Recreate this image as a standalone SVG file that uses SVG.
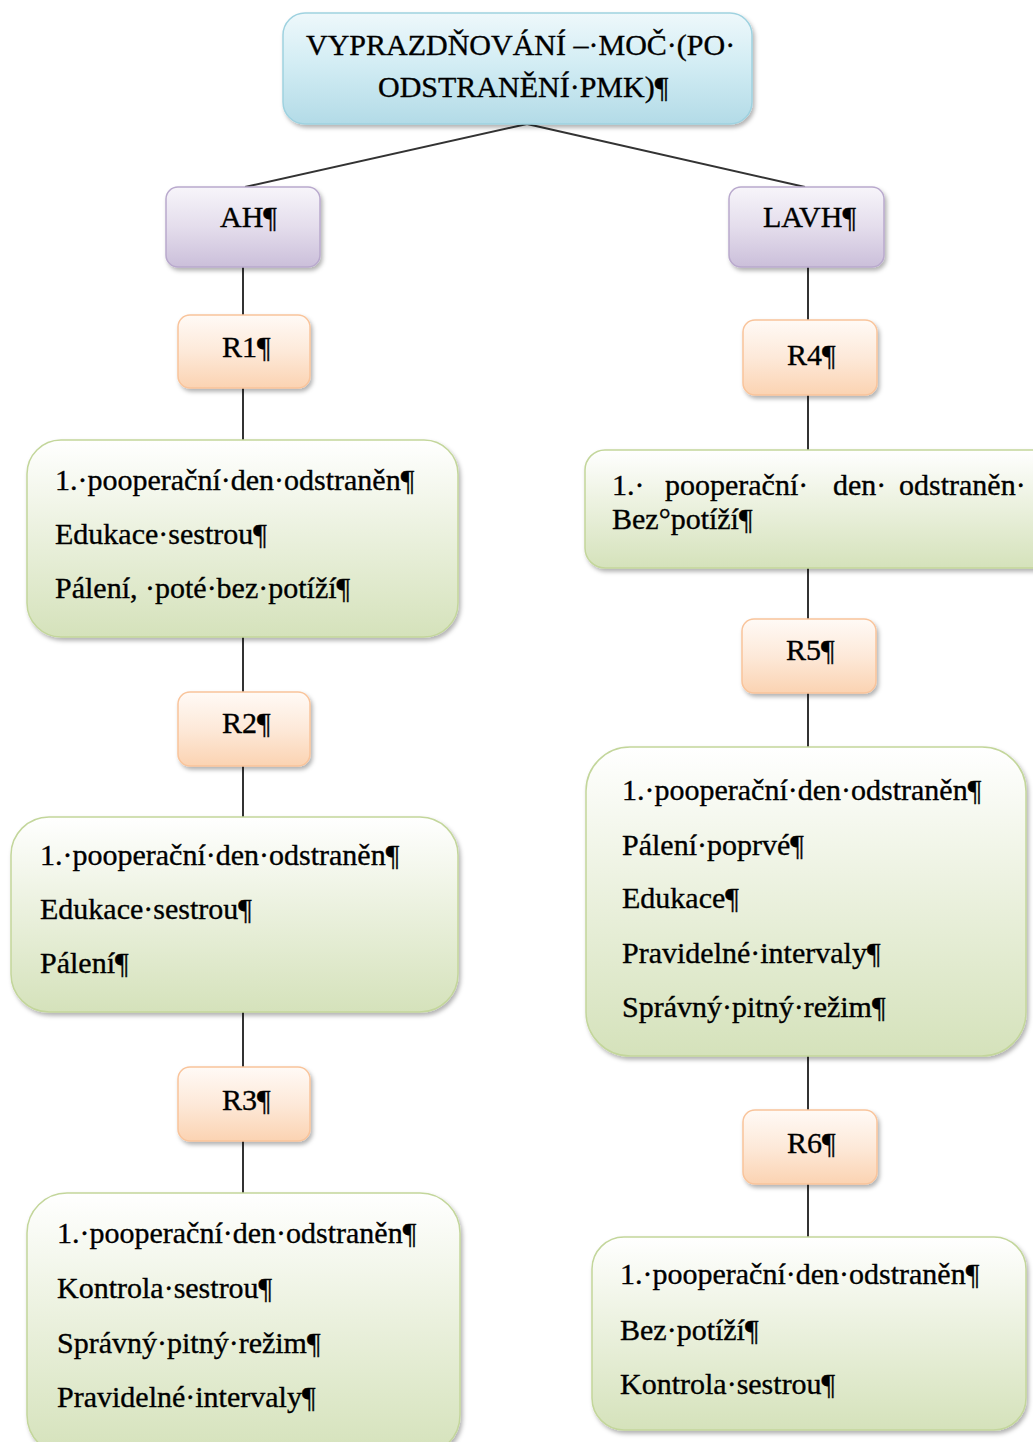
<svg xmlns="http://www.w3.org/2000/svg" width="1033" height="1442" viewBox="0 0 1033 1442">
  <defs>
    <linearGradient id="gBlue" x1="0" y1="0" x2="0" y2="1">
      <stop offset="0" stop-color="#eef8fb"/>
      <stop offset="0.45" stop-color="#d3edf4"/>
      <stop offset="1" stop-color="#b3dbe7"/>
    </linearGradient>
    <linearGradient id="gPurple" x1="0" y1="0" x2="0" y2="1">
      <stop offset="0" stop-color="#f7f5fa"/>
      <stop offset="0.5" stop-color="#e4ddec"/>
      <stop offset="1" stop-color="#cbbfda"/>
    </linearGradient>
    <linearGradient id="gOrange" x1="0" y1="0" x2="0" y2="1">
      <stop offset="0" stop-color="#fffaf6"/>
      <stop offset="0.5" stop-color="#fde9d9"/>
      <stop offset="1" stop-color="#fbd3b2"/>
    </linearGradient>
    <linearGradient id="gGreen" x1="0" y1="0" x2="0" y2="1">
      <stop offset="0" stop-color="#ffffff"/>
      <stop offset="0.4" stop-color="#eef3e3"/>
      <stop offset="1" stop-color="#d5e2bb"/>
    </linearGradient>
    <filter id="shadow" x="-10%" y="-10%" width="120%" height="130%">
      <feDropShadow dx="2" dy="3" stdDeviation="2" flood-color="#000" flood-opacity="0.3"/>
    </filter>
  </defs>
  <style>
    .blue { fill: url(#gBlue); stroke: #9fd2e0; stroke-width: 1.5; filter: url(#shadow); }
    .purple { fill: url(#gPurple); stroke: #b9a9cd; stroke-width: 1.5; filter: url(#shadow); }
    .orange { fill: url(#gOrange); stroke: #f9c49b; stroke-width: 1.5; filter: url(#shadow); }
    .green { fill: url(#gGreen); stroke: #c3d69b; stroke-width: 1.5; filter: url(#shadow); }
    .link { stroke: #333333; stroke-width: 2; fill: none; }
    text { font-family: "Liberation Serif", "Times New Roman", serif; font-size: 30px; fill: #000000; stroke: #000000; stroke-width: 0.35; }
  </style>

  <rect width="1033" height="1442" fill="#ffffff"/>

  <!-- connectors -->
  <g id="connectors">
    <line class="link" x1="527" y1="124" x2="245" y2="187"/>
    <line class="link" x1="527" y1="124" x2="805" y2="187"/>
    <line class="link" x1="243" y1="267" x2="243" y2="316"/>
    <line class="link" x1="243" y1="388" x2="243" y2="441"/>
    <line class="link" x1="243" y1="637" x2="243" y2="693"/>
    <line class="link" x1="243" y1="766" x2="243" y2="818"/>
    <line class="link" x1="243" y1="1012" x2="243" y2="1068"/>
    <line class="link" x1="243" y1="1141" x2="243" y2="1194"/>
    <line class="link" x1="808" y1="267" x2="808" y2="321"/>
    <line class="link" x1="808" y1="395" x2="808" y2="451"/>
    <line class="link" x1="808" y1="568" x2="808" y2="619"/>
    <line class="link" x1="808" y1="693" x2="808" y2="747"/>
    <line class="link" x1="808" y1="1056" x2="808" y2="1111"/>
    <line class="link" x1="808" y1="1184" x2="808" y2="1237"/>
  </g>

  <!-- root -->
  <g id="root">
    <rect class="blue" x="283" y="13" width="469" height="111" rx="22"/>
    <text x="306" y="55">VYPRAZDŇOVÁNÍ –·MOČ·(PO·</text>
    <text x="378" y="97">ODSTRANĚNÍ·PMK)¶</text>
  </g>

  <!-- left branch -->
  <g id="ah">
    <rect class="purple" x="166" y="187" width="154" height="80" rx="12"/>
    <text x="220" y="227">AH¶</text>
  </g>
  <g id="r1">
    <rect class="orange" x="178" y="315" width="132" height="73" rx="12"/>
    <text x="222" y="357">R1¶</text>
  </g>
  <g id="ah-r1-box">
    <rect class="green" x="27" y="440" width="431" height="197" rx="34"/>
    <text x="55" y="490">1.·pooperační·den·odstraněn¶</text>
    <text x="55" y="544">Edukace·sestrou¶</text>
    <text x="55" y="598">Pálení, ·poté·bez·potíží¶</text>
  </g>
  <g id="r2">
    <rect class="orange" x="178" y="692" width="132" height="74" rx="12"/>
    <text x="222" y="733">R2¶</text>
  </g>
  <g id="ah-r2-box">
    <rect class="green" x="11" y="817" width="447" height="195" rx="38"/>
    <text x="40" y="865">1.·pooperační·den·odstraněn¶</text>
    <text x="40" y="919">Edukace·sestrou¶</text>
    <text x="40" y="973">Pálení¶</text>
  </g>
  <g id="r3">
    <rect class="orange" x="178" y="1067" width="132" height="74" rx="12"/>
    <text x="222" y="1110">R3¶</text>
  </g>
  <g id="ah-r3-box">
    <rect class="green" x="27" y="1193" width="433" height="262" rx="40"/>
    <text x="57" y="1243">1.·pooperační·den·odstraněn¶</text>
    <text x="57" y="1298">Kontrola·sestrou¶</text>
    <text x="57" y="1353">Správný·pitný·režim¶</text>
    <text x="57" y="1407">Pravidelné·intervaly¶</text>
  </g>

  <!-- right branch -->
  <g id="lavh">
    <rect class="purple" x="729" y="187" width="155" height="80" rx="12"/>
    <text x="763" y="227">LAVH¶</text>
  </g>
  <g id="r4">
    <rect class="orange" x="743" y="320" width="134" height="75" rx="12"/>
    <text x="787" y="365">R4¶</text>
  </g>
  <g id="lavh-r4-box">
    <rect class="green" x="585" y="450" width="470" height="118" rx="20"/>
    <text y="495"><tspan x="612">1.·</tspan><tspan x="665">pooperační·</tspan><tspan x="833">den·</tspan><tspan x="899">odstraněn·</tspan></text>
    <text x="612" y="529">Bez°potíží¶</text>
  </g>
  <g id="r5">
    <rect class="orange" x="742" y="619" width="134" height="74" rx="12"/>
    <text x="786" y="660">R5¶</text>
  </g>
  <g id="lavh-r5-box">
    <rect class="green" x="586" y="747" width="440" height="309" rx="44"/>
    <text x="622" y="800">1.·pooperační·den·odstraněn¶</text>
    <text x="622" y="855">Pálení·poprvé¶</text>
    <text x="622" y="908">Edukace¶</text>
    <text x="622" y="963">Pravidelné·intervaly¶</text>
    <text x="622" y="1017">Správný·pitný·režim¶</text>
  </g>
  <g id="r6">
    <rect class="orange" x="743" y="1110" width="134" height="74" rx="12"/>
    <text x="787" y="1153">R6¶</text>
  </g>
  <g id="lavh-r6-box">
    <rect class="green" x="592" y="1237" width="434" height="193" rx="32"/>
    <text x="620" y="1284">1.·pooperační·den·odstraněn¶</text>
    <text x="620" y="1340">Bez·potíží¶</text>
    <text x="620" y="1394">Kontrola·sestrou¶</text>
  </g>
</svg>
